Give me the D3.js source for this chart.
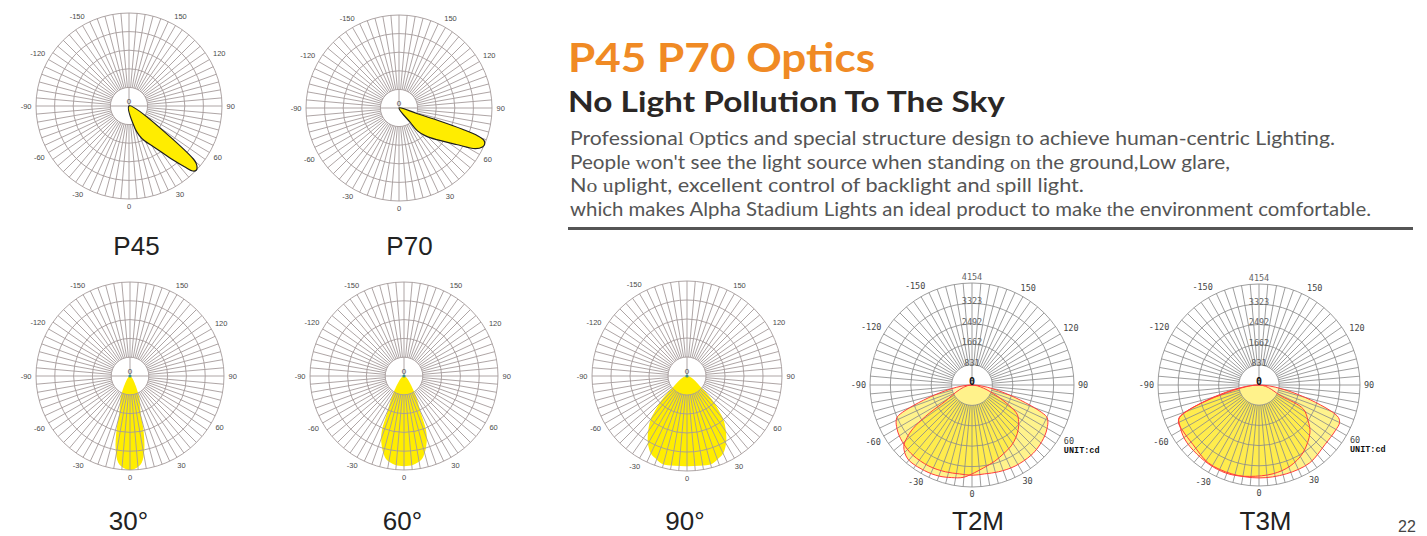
<!DOCTYPE html>
<html>
<head>
<meta charset="utf-8">
<script src="https://cdn.jsdelivr.net/npm/d3@7"></script>
<style>
  html, body { margin: 0; padding: 0; background: #fff; overflow: hidden; }
  svg { display: block; }
</style>
</head>
<body>
<svg id="page" width="1427" height="536"></svg>
<script>
// ---------- data ----------
const angleTicks = [-150, -120, -90, -60, -30, 0, 30, 60, 90, 120, 150];
const relRings = [0.2, 0.4, 0.6, 0.8, 1.0];
const cdRings = [831, 1662, 2492, 3323, 4154];

// relative intensity lobes: [angle in degrees (0 = nadir, + = right), relative value]
const p45Lobe = [[14, 0], [15, 0.25], [19, 0.33], [24, 0.41], [31, 0.51], [36, 0.63], [39.5, 0.76],
  [42.5, 0.89], [44.5, 0.98], [46.5, 1.0], [48, 0.985], [49.5, 0.95], [50.5, 0.9]];
const p70Lobe = [[37, 0], [38, 0.2], [39, 0.32], [44, 0.42], [50, 0.53], [57.5, 0.73], [62, 0.93],
  [65, 0.99], [67, 1.0], [69, 0.98], [70.5, 0.9], [71.5, 0.72], [72.3, 0.45], [72.8, 0.2]];
const beam30 = [[0, 0], [-24, 0.24], [-20, 0.31], [-16, 0.41], [-14, 0.59], [-11, 0.8], [-7.7, 0.93],
  [-4, 0.98], [0, 1.0], [4, 0.98], [7.7, 0.93], [11, 0.8], [14, 0.59], [16, 0.41], [20, 0.31], [24, 0.24]];
const beam60 = [[0, 0], [-32, 0.22], [-27.7, 0.32], [-24.5, 0.435], [-22.2, 0.62], [-20, 0.71], [-17.5, 0.785],
  [-14.5, 0.86], [-11.7, 0.91], [-6, 0.95], [0, 0.96], [6, 0.95], [11.7, 0.91], [14.5, 0.86], [17.5, 0.785],
  [20, 0.71], [22.2, 0.62], [24.5, 0.435], [27.7, 0.32], [32, 0.22]];
const beam90 = [[0, 0], [-51, 0.2], [-48, 0.3], [-45.3, 0.41], [-42.5, 0.5], [-39.8, 0.6], [-36.5, 0.68],
  [-33, 0.76], [-29, 0.84], [-25, 0.9], [-20, 0.935], [-16, 0.96], [-8, 0.955], [0, 0.95], [8, 0.955],
  [16, 0.96], [20, 0.935], [25, 0.9], [29, 0.84], [33, 0.76], [36.5, 0.68], [39.8, 0.6], [42.5, 0.5],
  [45.3, 0.41], [48, 0.3], [51, 0.2]];

// candela curves: [angle in degrees, cd]
const t2mAlong = [[0, 0], [-67.5, 3240], [-65, 3406], [-60, 3531], [-55, 3614], [-47, 3697], [-40, 3739],
  [-28, 3739], [-17, 3697], [-8, 3656], [0, 3676], [8, 3656], [17, 3697], [28, 3739], [40, 3739],
  [47, 3697], [55, 3614], [60, 3531], [65, 3406], [67.5, 3240]];
const t2mAcross = [[0, 0], [-58, 1454], [-56, 2285], [-53.5, 2991], [-51, 3406], [-48, 3739], [-41, 3988],
  [-29, 3988], [-20, 3946], [-12.6, 3863], [-5.5, 3780], [1.7, 3572], [8, 3406], [16.6, 3240], [25, 3074],
  [32.8, 2949], [40, 2783], [46, 2617], [52, 2409], [58, 2119]];
const t3mAcross = [[0, 0], [-68, 3531], [-63, 3656], [-54, 3780], [-42, 3822], [-29, 3863], [-18, 3863],
  [-6, 3780], [9, 3697], [21, 3572], [33, 3323], [47, 2866], [54, 2492], [61.5, 2077], [63.5, 1039]];
const t3mAlong = [[0, 0], [-68.5, 3448], [-65, 3656], [-59, 3656], [-48, 3656], [-33, 3822], [-17, 3822],
  [0, 3822], [17, 3822], [33, 3822], [48, 3656], [59, 3656], [65, 3656], [68.5, 3448]];

const chartTitles = ["P45", "P70", "30°", "60°", "90°", "T2M", "T3M"];

const headline = "P45 P70 Optics";
const subline = "No Light Pollution To The Sky";
// each line: [text, drawn in the alternate face]
const bodyLines = [
  [["Professiona", 0], ["l O", 1], ["ptics and special structure desig", 0], ["n t", 1], ["o achieve human-centric Lighting.", 0]],
  [["Peopl", 0], ["e w", 1], ["on't see the light source when standing ", 0], ["on t", 1], ["he ground,Low glare,", 0]],
  [["N", 0], ["o u", 1], ["plight, excellent control of backlight an", 0], ["d s", 1], ["pill light.", 0]],
  [["which makes Alpha Stadium Lights an ideal product to mak", 0], ["e t", 1], ["he environment comfortable.", 0]]
];
const pageNumber = "22";

// ---------- drawing ----------
const svg = d3.select("#page");
const rad = Math.PI / 180;
svg.append("rect").attr("width", 1427).attr("height", 536).attr("fill", "#fff");

function radialPath(scale, curve) {
  return d3.lineRadial()
    .angle(d => (180 - d[0]) * rad)
    .radius(d => scale(d[1]))
    .curve(curve || d3.curveCatmullRomClosed.alpha(0.5));
}

function drawGrid(g, scale, rings, color, width) {
  const inner = scale(rings[0]);
  const R = scale(rings[rings.length - 1]);
  const gg = g.append("g").attr("stroke", color).attr("stroke-width", width).attr("fill", "none");
  gg.selectAll("line.spoke").data(d3.range(0, 360, 5)).join("line")
    .attr("class", "spoke")
    .attr("x1", d => inner * Math.sin(d * rad)).attr("y1", d => inner * Math.cos(d * rad))
    .attr("x2", d => R * Math.sin(d * rad)).attr("y2", d => R * Math.cos(d * rad));
  gg.selectAll("circle").data(rings).join("circle").attr("r", d => scale(d));
  gg.append("line").attr("x1", -inner).attr("x2", inner).attr("y1", 0).attr("y2", 0);
  gg.append("line").attr("x1", 0).attr("x2", 0).attr("y1", -inner).attr("y2", 0);
}

function drawAngleLabels(g, R, gap, family, size, fill) {
  const labels = [];
  angleTicks.forEach(a => {
    const t = g.append("text").text(String(a))
      .attr("font-family", family).attr("font-size", size).attr("fill", fill)
      .attr("text-anchor", "middle").attr("dominant-baseline", "central");
    const w = t.node().getComputedTextLength();
    const h = size * 0.72;
    const s = Math.sin(a * rad), c = Math.cos(a * rad);
    const d = R + gap + (w / 2) * Math.abs(s) + (h / 2) * Math.abs(c);
    t.attr("x", d * s).attr("y", d * c);
    labels.push({ a, x: d * s, y: d * c, w });
  });
  return labels;
}

// --- relative-intensity charts (P45, P70, beam angles) ---
const relCharts = [
  { cx: 129, cy: 106, R: 93, lobe: p45Lobe, kind: "outline" },
  { cx: 399, cy: 108, R: 93, lobe: p70Lobe, kind: "outline" },
  { cx: 130, cy: 376, R: 94, lobe: beam30, kind: "beam" },
  { cx: 404, cy: 376, R: 94, lobe: beam60, kind: "beam" },
  { cx: 687, cy: 376, R: 95, lobe: beam90, kind: "beam" }
];

relCharts.forEach(c => {
  const g = svg.append("g").attr("transform", `translate(${c.cx},${c.cy})`);
  const r = d3.scaleLinear().domain([0, 1]).range([0, c.R]);
  const path = radialPath(r);
  if (c.kind === "outline") {
    drawGrid(g, r, relRings, "#a59b9b", 0.9);
    g.append("path").datum(c.lobe).attr("d", path)
      .attr("fill", "#ffed00").attr("stroke", "#1e1e1e").attr("stroke-width", 1.2)
      .attr("stroke-linejoin", "round");
  } else {
    g.append("path").datum(c.lobe).attr("d", path).attr("fill", "#ffed00");
    drawGrid(g, r, relRings, "#a59b9b", 0.9);
    g.append("circle").attr("r", 1.6).attr("fill", "#3d8f8c");
  }
  g.append("text").text("0").attr("x", 0).attr("y", -4.5)
    .attr("font-family", "Liberation Sans, Arial, sans-serif").attr("font-size", 8)
    .attr("fill", "#555").attr("text-anchor", "middle").attr("dominant-baseline", "central");
  drawAngleLabels(g, c.R, 4.5, "Liberation Sans, Arial, sans-serif", 7.5, "#4a4a4a");
});

// --- candela charts (T2M, T3M) ---
const cdCharts = [
  { cx: 972, cy: 385, R: 102, curves: [t2mAlong, t2mAcross] },
  { cx: 1259, cy: 385, R: 101, curves: [t3mAlong, t3mAcross] }
];

cdCharts.forEach(c => {
  const g = svg.append("g").attr("transform", `translate(${c.cx},${c.cy})`);
  const r = d3.scaleLinear().domain([0, cdRings[cdRings.length - 1]]).range([0, c.R]);
  const path = radialPath(r);
  c.curves.forEach(cv => {
    g.append("path").datum(cv).attr("d", path).attr("fill", "#ffe500").attr("fill-opacity", 0.45);
  });
  g.append("circle").attr("r", r(cdRings[0])).attr("fill", "#fff").attr("fill-opacity", 0.35);
  drawGrid(g, r, cdRings, "#8c8c8c", 0.85);
  c.curves.forEach(cv => {
    g.append("path").datum(cv).attr("d", path).attr("fill", "none")
      .attr("stroke", "#ff3d3d").attr("stroke-width", 1).attr("stroke-linejoin", "round");
  });
  const mono = "DejaVu Sans Mono, monospace";
  // intensity values on the vertical axis
  g.selectAll("text.ring").data(cdRings).join("text").attr("class", "ring")
    .attr("x", 0)
    .attr("y", (d, i) => i === cdRings.length - 1 ? -r(d) - 3 : -r(d) + 1)
    .attr("font-family", mono).attr("font-size", 8.5).attr("fill", "#666")
    .attr("text-anchor", "middle").text(d => d);
  g.append("text").text("0").attr("x", 0).attr("y", 0)
    .attr("font-family", mono).attr("font-weight", "bold").attr("font-size", 10)
    .attr("fill", "#111").attr("text-anchor", "middle");
  const labels = drawAngleLabels(g, c.R, 4, mono, 8.5, "#444");
  const l60 = labels.find(l => l.a === 60);
  g.append("text").text("UNIT:cd")
    .attr("x", l60.x - l60.w / 2).attr("y", l60.y + 10)
    .attr("font-family", "Liberation Mono, Courier New, monospace").attr("font-weight", "bold")
    .attr("font-size", 8.5).attr("fill", "#111").attr("dominant-baseline", "central");
});

// --- chart titles ---
const titlePos = [[136.5, 255], [409.5, 255], [128.5, 530], [402.5, 530], [685, 530], [978, 530], [1265.5, 530]];
svg.selectAll("text.title").data(chartTitles).join("text").attr("class", "title")
  .attr("x", (d, i) => titlePos[i][0]).attr("y", (d, i) => titlePos[i][1])
  .attr("font-family", "Liberation Sans, Arial, sans-serif").attr("font-size", 26)
  .attr("fill", "#222").attr("text-anchor", "middle").text(d => d);

// --- heading block ---
svg.append("text").attr("x", 568).attr("y", 72)
  .attr("font-family", "Lato, sans-serif").attr("font-weight", 700).attr("font-size", 40)
  .attr("fill", "#f08a24").attr("textLength", 307).attr("lengthAdjust", "spacingAndGlyphs")
  .text(headline);
svg.append("text").attr("x", 568).attr("y", 112)
  .attr("font-family", "Lato, sans-serif").attr("font-weight", 700).attr("font-size", 28)
  .attr("fill", "#2b2725").attr("textLength", 437).attr("lengthAdjust", "spacingAndGlyphs")
  .text(subline);

const bodyBase = [145, 168.5, 192, 215.5];
const bodyWidth = [765, 660, 514, 801];
const bodyGroup = svg.append("g");
bodyLines.forEach((line, i) => {
  const t = bodyGroup.append("text").attr("x", 570).attr("y", bodyBase[i])
    .attr("xml:space", "preserve")
    .attr("font-family", "Lato, sans-serif").attr("font-size", 18.3).attr("fill", "#555")
    .attr("textLength", bodyWidth[i]).attr("lengthAdjust", "spacingAndGlyphs");
  line.forEach(([s, alt]) => {
    const sp = t.append("tspan").text(s);
    if (alt) sp.attr("font-family", "Liberation Serif, serif");
  });
});

svg.append("rect").attr("x", 568).attr("y", 227).attr("width", 845).attr("height", 3).attr("fill", "#555");

svg.append("text").attr("x", 1398).attr("y", 532)
  .attr("font-family", "Liberation Sans, Arial, sans-serif").attr("font-size", 16)
  .attr("fill", "#444").text(pageNumber);
</script>
</body>
</html>
